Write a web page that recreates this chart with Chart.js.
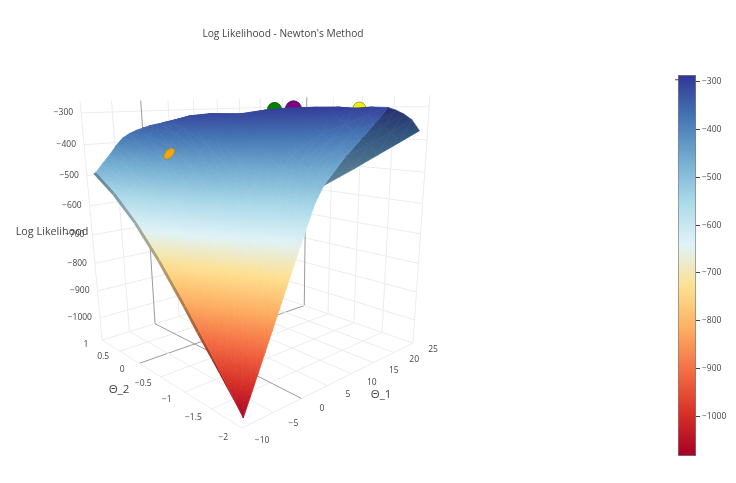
<!DOCTYPE html>
<html>
<head>
<meta charset="utf-8">
<script src="https://cdn.jsdelivr.net/npm/chart.js@4"></script>
<style>
  body { margin: 0; background: #fff; }
  #plot { position: absolute; left: 0; top: 0; }
  #bar { position: absolute; left: 670px; top: 65px; }
</style>
</head>
<body>
<canvas id="plot" width="736" height="483"></canvas>
<canvas id="bar" width="60" height="400"></canvas>
<script>
// surface values
const theta1 = [-10, -8.75, -7.5, -6.25, -5, -3.75, -2.5, -1.25, 0, 2.5, 4.1, 10, 15, 20, 25];
const theta2 = [-2, -1.875, -1.75, -1.625, -1.5, -1.25, -1, -0.5, 0, 0.5, 1];
const logLik = [
  [-1075, -1042, -1010, -977, -945, -885, -825, -715, -620, -545, -488],
  [-1022, -989, -957, -925, -893, -833, -773, -665, -575, -510, -462],
  [-968, -936, -904, -872, -840, -780, -720, -615, -530, -475, -437],
  [-914, -882, -850, -818, -786, -726, -667, -562, -484, -439, -409],
  [-860, -828, -796, -764, -732, -672, -614, -510, -440, -405, -385],
  [-806, -774, -743, -711, -680, -621, -563, -465, -402, -376, -372],
  [-752, -720, -690, -658, -628, -570, -512, -420, -368, -352, -363],
  [-698, -670, -643, -614, -587, -533, -478, -395, -348, -343, -356],
  [-645, -621, -596, -571, -546, -497, -445, -370, -330, -335, -350],
  [-540, -520, -500, -480, -460, -425, -390, -335, -315, -325, -342],
  [-495, -478, -458, -438, -420, -390, -358, -320, -310, -318, -338],
  [-462, -429, -408, -388, -368, -335, -312, -302, -314, -340, -375],
  [-432, -404, -388, -368, -345, -312, -296, -298, -325, -370, -430],
  [-402, -372, -356, -347, -322, -302, -298, -315, -360, -425, -500],
  [-372, -339, -322, -310, -302, -300, -305, -335, -400, -480, -570],
];

// Newton iterates
const stepT1 = [17.35, 21.84, 23.4];
const stepT2 = [0, 0, -1.13];
const stepZ = [-304, -304, -304];
const stepColors = ['#008000', '#800080', '#eeee00'];
const stepBorders = ['#0a5a0a', '#35208a', '#a8a830'];
const startT1 = [-3.9];
const startT2 = [0];
const startZ = [-425];

const t1Ticks = [-10, -5, 0, 5, 10, 15, 20, 25];
const t2Ticks = [-2, -1.5, -1, -0.5, 0, 0.5, 1];
const zTicks = [-300, -400, -500, -600, -700, -800, -900, -1000];

const colorStops = [
  [165, 0, 38], [215, 48, 39], [244, 109, 67], [253, 174, 97], [254, 224, 144],
  [224, 243, 248], [171, 217, 233], [116, 173, 209], [69, 117, 180], [49, 54, 149],
];
const zMin = -1083;
const zMax = -286;

// grid box, the surface range (sits a little inside it) and camera
const box = { t1: [-10, 25], t2: [-2, 1], z: [-1085, -265] };
const inner = { t1: [-11.1, 25.5], t2: [-2.09, 1.09], z: [-1085, -265] };
const cam = { a: 308.1, b: -101, c: 242, ax: -42.5, d: 28.9, e: 41.9, f: 428, ay: -345, g: 0.332, h: 0.382, k: -0.1517 };

function norm3(r, t1, t2, z) {
  return [(t1 - r.t1[0]) / (r.t1[1] - r.t1[0]), (t2 - r.t2[0]) / (r.t2[1] - r.t2[0]), (z - r.z[0]) / (r.z[1] - r.z[0])];
}
function projectIn(r, t1, t2, z) {
  const [u, v, n] = norm3(r, t1, t2, z);
  const w = 1 + cam.g * u + cam.h * v + cam.k * n;
  return {
    x: (cam.a * u + cam.b * v + cam.c + cam.ax * n) / w,
    y: (cam.d * u + cam.e * v + cam.f + cam.ay * n) / w,
  };
}
const project = (t1, t2, z) => projectIn(box, t1, t2, z);
const projectSurface = (t1, t2, z) => projectIn(inner, t1, t2, z);
function depth(t1, t2, z) {
  const [u, v, n] = norm3(inner, t1, t2, z);
  return 1 + cam.g * u + cam.h * v + cam.k * n;
}

function colorAt(z, shade) {
  const p = Math.min(0.9999, Math.max(0, (z - zMin) / (zMax - zMin))) * (colorStops.length - 1);
  const i = Math.floor(p);
  const f = p - i;
  const c = colorStops[i].map((v, k) => (v + (colorStops[i + 1][k] - v) * f) * shade);
  return `rgb(${c[0].toFixed(0)},${c[1].toFixed(0)},${c[2].toFixed(0)})`;
}

// the far side of the fold, past this line, is unlit
const foldT1 = [4.1, 25];
const foldT2 = [-2, -1.48];
function inShadow(t1, t2) {
  if (t1 < foldT1[0]) return false;
  const line = foldT2[0] + (t1 - foldT1[0]) * (foldT2[1] - foldT2[0]) / (foldT1[1] - foldT1[0]);
  return t2 < line;
}

const meshNodes = [];
theta1.forEach((a, i) => theta2.forEach((b, j) => meshNodes.push(projectSurface(a, b, logLik[i][j]))));

function line(from, to, color) {
  return { type: 'line', label: 'grid', data: [from, to], borderColor: color, borderWidth: 1, pointRadius: 0, tension: 0 };
}
const gridColor = '#ececef';
const zeroColor = '#9a9a9f';
const gridSets = [];
t1Ticks.forEach(t => {
  const c = t === 0 ? zeroColor : gridColor;
  gridSets.push(line(project(t, box.t2[0], box.z[0]), project(t, box.t2[1], box.z[0]), c));
  gridSets.push(line(project(t, box.t2[1], box.z[0]), project(t, box.t2[1], box.z[1]), c));
});
t2Ticks.forEach(t => {
  const c = t === 0 ? zeroColor : gridColor;
  gridSets.push(line(project(box.t1[0], t, box.z[0]), project(box.t1[1], t, box.z[0]), c));
  gridSets.push(line(project(box.t1[1], t, box.z[0]), project(box.t1[1], t, box.z[1]), c));
});
zTicks.forEach(t => {
  gridSets.push(line(project(box.t1[0], box.t2[1], t), project(box.t1[1], box.t2[1], t), gridColor));
  gridSets.push(line(project(box.t1[1], box.t2[0], t), project(box.t1[1], box.t2[1], t), gridColor));
});

// orange start point sits half inside the surface, so only a lens of it shows
const lens = document.createElement('canvas');
lens.width = 16;
lens.height = 16;
const lc = lens.getContext('2d');
lc.translate(8, 8);
lc.rotate(-0.8);
lc.beginPath();
lc.ellipse(0, 0, 6.6, 3.9, 0, 0, Math.PI * 2);
lc.fillStyle = '#f5a60c';
lc.fill();
lc.strokeStyle = 'rgba(120,130,60,0.6)';
lc.lineWidth = 0.8;
lc.stroke();

function fillTri(ctx, p, z, shade) {
  const dx1 = p[1].x - p[0].x, dy1 = p[1].y - p[0].y, dx2 = p[2].x - p[0].x, dy2 = p[2].y - p[0].y;
  const det = dx1 * dy2 - dx2 * dy1;
  if (Math.abs(det) < 0.01) return;
  const A = ((z[1] - z[0]) * dy2 - (z[2] - z[0]) * dy1) / det;
  const B = ((z[2] - z[0]) * dx1 - (z[1] - z[0]) * dx2) / det;
  const lo = Math.min(z[0], z[1], z[2]);
  const hi = Math.max(z[0], z[1], z[2]);
  const start = p[z.indexOf(lo)];
  const nn = A * A + B * B;
  let style = colorAt(lo, shade);
  if (nn > 0 && hi > lo) {
    const g = ctx.createLinearGradient(start.x, start.y, start.x + A / nn * (hi - lo), start.y + B / nn * (hi - lo));
    for (let s = 0; s <= 6; s++) g.addColorStop(s / 6, colorAt(lo + (hi - lo) * s / 6, shade));
    style = g;
  }
  ctx.fillStyle = style;
  ctx.strokeStyle = style;
  ctx.lineWidth = 0.7;
  ctx.beginPath();
  ctx.moveTo(p[0].x, p[0].y);
  ctx.lineTo(p[1].x, p[1].y);
  ctx.lineTo(p[2].x, p[2].y);
  ctx.closePath();
  ctx.fill();
  ctx.stroke();
}

function drawSurface(chart) {
  const ctx = chart.ctx;
  const meta = chart.getDatasetMeta(chart.data.datasets.findIndex(d => d.label === 'surface'));
  const node = (i, j) => meta.data[i * theta2.length + j];

  // thin grey side along the theta1 = -10 edge
  const tip = node(0, 0);
  for (let j = 0; j < theta2.length - 1; j++) {
    const a = node(0, j), b = node(0, j + 1);
    const fa = Math.min(1, Math.hypot(a.x - tip.x, a.y - tip.y) / 90);
    const fb = Math.min(1, Math.hypot(b.x - tip.x, b.y - tip.y) / 90);
    const g = ctx.createLinearGradient(a.x, a.y, b.x, b.y);
    g.addColorStop(0, colorAt(logLik[0][j], 0.72));
    g.addColorStop(1, colorAt(logLik[0][j + 1], 0.72));
    ctx.fillStyle = g;
    ctx.beginPath();
    ctx.moveTo(a.x, a.y);
    ctx.lineTo(b.x, b.y);
    ctx.lineTo(b.x - 2.8 * fb, b.y + 1.8 * fb);
    ctx.lineTo(a.x - 2.8 * fa, a.y + 1.8 * fa);
    ctx.closePath();
    ctx.fill();
  }

  const tris = [];
  const addTri = (c) => {
    const z = c.map(n => logLik[n[0]][n[1]]);
    const mt1 = (theta1[c[0][0]] + theta1[c[1][0]] + theta1[c[2][0]]) / 3;
    const mt2 = (theta2[c[0][1]] + theta2[c[1][1]] + theta2[c[2][1]]) / 3;
    tris.push({
      p: c.map(n => node(n[0], n[1])),
      z: z,
      shade: inShadow(mt1, mt2) ? 0.7 : 1,
      d: depth(mt1, mt2, (z[0] + z[1] + z[2]) / 3),
    });
  };
  for (let i = 0; i < theta1.length - 1; i++) {
    for (let j = 0; j < theta2.length - 1; j++) {
      addTri([[i, j], [i + 1, j], [i + 1, j + 1]]);
      addTri([[i, j], [i + 1, j + 1], [i, j + 1]]);
    }
  }
  tris.sort((m, n) => n.d - m.d);
  tris.forEach(t => fillTri(ctx, t.p, t.z, t.shade));
}

function fmt(v) {
  return String(v).replace('-', '\u2212');
}

const surfacePlugin = {
  id: 'surface',
  beforeDatasetDraw(chart, args) {
    if (chart.data.datasets[args.index].label === 'start') drawSurface(chart);
  },
  afterDraw(chart) {
    const ctx = chart.ctx;
    const sx = chart.scales.x, sy = chart.scales.y;
    const put = (text, p, align, font) => {
      ctx.font = font;
      ctx.textAlign = align;
      ctx.textBaseline = 'middle';
      ctx.fillStyle = '#444';
      ctx.fillText(text, sx.getPixelForValue(p.x), sy.getPixelForValue(p.y));
    };
    const small = '8.5px "Open Sans"';
    t1Ticks.forEach(t => put(fmt(t), project(t, -2.3, box.z[0]), 'center', small));
    t2Ticks.forEach(t => put(fmt(t), project(-12.8, t, box.z[0]), 'center', small));
    zTicks.forEach(t => {
      const p = project(box.t1[0], box.t2[1], t);
      put(fmt(t), { x: p.x - 8, y: p.y }, 'right', small);
    });
    put("Log Likelihood - Newton's Method", { x: 283, y: 34 }, 'center', '10.2px "Open Sans"');
    put('Log Likelihood', { x: 52, y: 232 }, 'center', '10.8px "Open Sans"');
    put('\u0398_1', { x: 381, y: 395 }, 'center', '11.5px "Open Sans"');
    put('\u0398_2', { x: 119, y: 390 }, 'center', '11.5px "Open Sans"');
  },
};

new Chart(document.getElementById('plot'), {
  type: 'scatter',
  plugins: [surfacePlugin],
  data: {
    datasets: [
      {
        label: 'start',
        data: startT1.map((t, i) => projectSurface(t, startT2[i], startZ[i])),
        pointStyle: lens,
        pointRadius: 8,
      },
      {
        label: 'steps',
        data: stepT1.map((t, i) => projectSurface(t, stepT2[i], stepZ[i])),
        backgroundColor: stepColors,
        borderColor: stepBorders,
        borderWidth: 1,
        pointRadius: [7, 8, 6.5],
      },
      { label: 'surface', data: meshNodes, pointRadius: 0 },
      ...gridSets,
    ],
  },
  options: {
    responsive: false,
    animation: false,
    events: [],
    layout: { padding: 0, autoPadding: false },
    plugins: { legend: { display: false }, tooltip: { enabled: false } },
    scales: {
      x: { type: 'linear', min: 0, max: 736, display: false },
      y: { type: 'linear', min: 0, max: 483, reverse: true, display: false },
    },
  },
});

// colour bar
const barMark = [-296];

const barPlugin = {
  id: 'barMark',
  afterDraw(chart) {
    const ctx = chart.ctx;
    const y = chart.scales.y.getPixelForValue(barMark[0]);
    ctx.strokeStyle = '#8b2a2a';
    ctx.lineWidth = 1;
    ctx.beginPath();
    ctx.moveTo(chart.chartArea.left - 3, y);
    ctx.lineTo(chart.chartArea.left + 1, y);
    ctx.stroke();
  },
};

new Chart(document.getElementById('bar'), {
  type: 'bar',
  plugins: [barPlugin],
  data: {
    labels: [''],
    datasets: [{
      data: [[zMin, zMax]],
      barPercentage: 1,
      categoryPercentage: 1,
      borderWidth: 1,
      borderColor: '#7d7d85',
      borderSkipped: false,
      backgroundColor(c) {
        const area = c.chart.chartArea;
        if (!area) return '#888';
        const g = c.chart.ctx.createLinearGradient(0, area.bottom, 0, area.top);
        colorStops.forEach((s, i) => g.addColorStop(i / (colorStops.length - 1), `rgb(${s[0]},${s[1]},${s[2]})`));
        return g;
      },
    }],
  },
  options: {
    responsive: false,
    animation: false,
    events: [],
    layout: { padding: { left: 8, top: 10, bottom: 9 }, autoPadding: false },
    plugins: { legend: { display: false }, tooltip: { enabled: false } },
    scales: {
      x: { display: false },
      y: {
        position: 'right',
        min: zMin,
        max: zMax,
        afterFit(s) { s.width = 34; },
        afterBuildTicks(s) { s.ticks = zTicks.map(v => ({ value: v })); },
        border: { display: false },
        grid: { drawOnChartArea: false, drawTicks: true, tickLength: 4, color: '#444' },
        ticks: {
          padding: 2,
          color: '#444',
          font: { family: 'Open Sans', size: 8.5 },
          callback: v => fmt(v),
        },
      },
    },
  },
});
</script>
</body>
</html>
